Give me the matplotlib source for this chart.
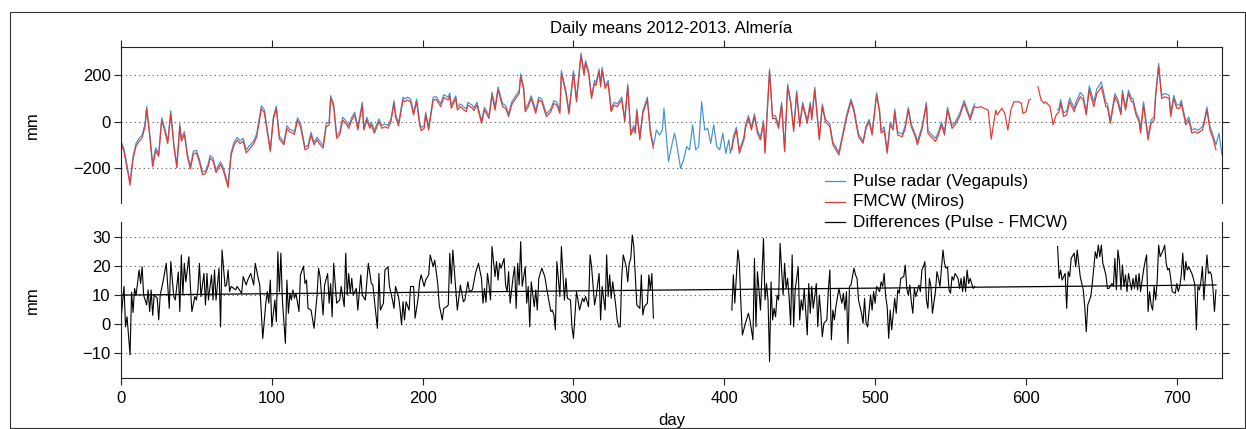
import numpy as np
import matplotlib
matplotlib.use("Agg")
import matplotlib.pyplot as plt
from matplotlib.lines import Line2D
from matplotlib.patches import Rectangle

plt.rcParams['font.family'] = ['Liberation Sans', 'DejaVu Sans']
plt.rcParams['axes.unicode_minus'] = True

# ---- top panel: daily means (mm) ----
# both sensors, days 0-353
days_1 = [0, 2, 4, 6, 8, 10, 12, 14, 16, 17,
          19, 21, 23, 25, 27, 29, 31, 33, 35, 37,
          39, 40, 42, 44, 46, 48, 50, 52, 54, 56,
          58, 59, 61, 63, 66, 68, 71, 73, 75, 77,
          79, 81, 83, 85, 88, 90, 93, 95, 99, 101,
          103, 105, 108, 110, 112, 115, 117, 119, 122, 124,
          126, 128, 130, 132, 134, 136, 138, 139, 141, 143,
          145, 147, 149, 151, 153, 155, 157, 160, 161, 163,
          165, 166, 168, 171, 173, 175, 177, 179, 181, 182,
          184, 187, 188, 190, 192, 194, 196, 198, 199, 201,
          202, 204, 207, 209, 212, 214, 217, 218, 219, 222,
          223, 225, 227, 229, 230, 233, 234, 236, 239, 241,
          244, 246, 248, 250, 253, 255, 257, 259, 261, 264,
          265, 267, 268, 270, 272, 275, 277, 279, 282, 285,
          287, 289, 291, 292, 295, 297, 300, 302, 305, 307,
          308, 310, 312, 314, 315, 317, 318, 319, 321, 323,
          325, 327, 329, 332, 334, 336, 338, 340, 341, 342,
          344, 346, 349, 351, 353]
fmcw_1 = [-95, -130, -200, -275, -160, -105, -85, -70, -20, 55,
          -60, -195, -125, -150, 5, -40, -95, 35, -105, -200,
          -20, -85, -55, -150, -205, -140, -135, -175, -230, -225,
          -190, -158, -170, -220, -185, -215, -285, -145, -100, -80,
          -95, -85, -135, -120, -95, -65, 55, 40, -130, 10,
          55, -75, -100, -30, -45, -55, 5, -20, -122, -115,
          -58, -100, -79, -100, -115, -22, -14, 100, 65, -72,
          -58, 7, -7, -29, 7, 29, -36, 72, -36, 7,
          -29, -14, -50, 0, -29, -22, -29, 0, 79, 22,
          -19, 94, 86, 94, 86, 29, 86, -14, -39, -29,
          29, -36, 94, 96, 65, 105, 94, 110, 58, 100,
          50, 65, 53, 43, 72, 58, 48, 72, -7, 50,
          14, 115, 50, 137, 65, 58, 22, 72, 94, 122,
          194, 137, 43, 65, 100, 36, 94, 86, 22, 43,
          79, 72, 36, 209, 122, 33, 209, 86, 285, 202,
          252, 209, 100, 166, 158, 216, 151, 223, 144, 166,
          43, 72, 65, 94, 0, 151, -58, -29, -50, 43,
          -79, 36, 94, -50, -115]
pulse_1 = [-84, -118, -188, -262, -150, -93, -72, -58, -8, 66,
           -48, -184, -113, -139, 17, -28, -84, 48, -94, -188,
           -8, -72, -43, -138, -193, -128, -124, -163, -218, -214,
           -178, -147, -158, -208, -174, -202, -272, -134, -88, -68,
           -83, -72, -122, -106, -83, -52, 68, 52, -120, 22,
           67, -62, -90, -18, -33, -44, 17, -6, -110, -103,
           -46, -90, -67, -86, -104, -10, -2, 112, 77, -60,
           -46, 19, 5, -17, 19, 41, -24, 84, -24, 19,
           -17, -2, -38, 12, -17, -10, -17, 12, 91, 34,
           -7, 106, 98, 106, 98, 41, 98, -2, -27, -17,
           41, -24, 106, 108, 77, 117, 106, 124, 70, 112,
           62, 77, 65, 55, 84, 70, 60, 84, 5, 62,
           26, 128, 62, 150, 78, 70, 34, 84, 106, 134,
           207, 149, 55, 77, 112, 48, 106, 98, 34, 55,
           91, 84, 48, 221, 134, 45, 221, 98, 297, 214,
           264, 221, 112, 178, 170, 228, 163, 235, 156, 178,
           55, 84, 77, 106, 12, 163, -46, -17, -38, 55,
           -67, 48, 106, -38, -105]

# pulse radar only, days 355-404
days_2 = [355, 357, 359, 360, 363, 365, 367, 368, 371, 373,
          375, 377, 379, 381, 383, 385, 387, 389, 391, 393,
          395, 397, 399, 401, 403, 404]
pulse_2 = [-36, -58, -36, 58, -173, -108, -50, -79, -202, -166,
           -108, -122, -14, -122, -108, 86, -36, -29, -94, -14,
           -108, -122, -50, -137, -79, -137]

# both sensors, days 405-566
days_3 = [405, 406, 408, 410, 413, 414, 416, 418, 420, 422,
          424, 426, 427, 430, 432, 434, 436, 438, 440, 442,
          444, 446, 448, 450, 452, 455, 457, 458, 460, 463,
          465, 467, 470, 472, 476, 479, 481, 484, 486, 489,
          492, 494, 496, 498, 501, 503, 504, 506, 508, 510,
          512, 513, 515, 518, 520, 522, 524, 527, 528, 531,
          534, 535, 538, 540, 542, 544, 546, 548, 551, 553,
          556, 559, 561, 563, 565, 566]
fmcw_3 = [-122, -80, -36, -137, -79, -29, 14, -36, 22, -50,
          -79, -7, -137, 216, 14, 14, -29, 72, -130, 151,
          79, -43, 122, -22, 72, -7, 72, 7, 137, -79,
          65, 0, -22, -100, -144, -50, 14, 86, 43, -65,
          -94, -29, 0, -58, 115, 36, -50, -36, -137, -14,
          -36, 43, -58, -65, -29, 50, -22, -72, -100, -36,
          72, -50, -72, -86, -58, -14, -58, 50, -29, -14,
          22, 79, 43, 7, 50, 65]
pulse_3 = [-110, -65, -24, -124, -67, -17, 26, -24, 34, -38,
           -67, 5, -125, 228, 26, 26, -17, 84, -118, 163,
           91, -31, 134, -10, 84, 5, 84, 19, 149, -67,
           77, 12, -10, -88, -132, -38, 26, 98, 55, -53,
           -84, -19, 10, -46, 125, 48, -38, -22, -125, -2,
           -24, 55, -46, -53, -17, 62, -10, -60, -88, -24,
           84, -38, -60, -72, -44, -2, -44, 62, -17, -2,
           34, 91, 55, 19, 62, 77]

# FMCW only, days 568-620 (short outage near day 605)
days_4 = [568, 570, 572, 575, 577, 580, 581, 584, 586, 588,
          590, 592, 595, 597, 598, 600, 602, 603, 605, 608,
          610, 612, 613, 616, 618, 620]
fmcw_4 = [60, 65, 58, 50, -76, 50, 29, 58, 36, -36,
          50, 86, 86, 79, 36, 43, 94, 96, None, 151,
          94, 79, 86, 65, -14, 29]

# both sensors, days 621-730
days_5 = [621, 622, 623, 625, 627, 629, 632, 633, 636, 638,
          640, 642, 645, 647, 649, 650, 653, 654, 656, 659,
          661, 663, 664, 666, 668, 670, 671, 673, 675, 676,
          678, 681, 683, 685, 686, 688, 690, 692, 695, 696,
          698, 700, 702, 703, 706, 708, 710, 712, 714, 717,
          718, 720, 722, 724, 726, 728, 730]
fmcw_5 = [35, 43, 79, 22, 29, 86, 43, 65, 108, 94,
          29, 137, 65, 122, 140, 151, 65, 65, -7, 108,
          79, 29, 122, 50, 122, 86, 86, 29, 0, -50,
          72, -79, -7, 7, 108, 238, 100, 108, 100, 22,
          100, 58, 58, 79, -14, 7, -50, -43, -50, -36,
          -14, 50, -36, -72, -122, None, None]
pulse_5 = [50, 58, 95, 38, 45, 102, 58, 82, 126, 112,
           42, 155, 85, 142, 160, 172, 82, 78, 5, 122,
           95, 42, 136, 62, 136, 100, 100, 43, 14, -36,
           86, -65, 7, 21, 122, 252, 114, 122, 114, 36,
           114, 72, 72, 93, 0, 20, -36, -30, -38, -22,
           -2, 64, -20, -58, -100, -50, -144]

# ---- bottom panel: differences Pulse - FMCW (mm) ----
diff_days_a = [0, 2, 3, 4, 6, 7, 8, 9, 10, 12,
               13, 14, 15, 17, 18, 19, 20, 21, 22, 24,
               25, 26, 28, 30, 32, 33, 35, 36, 38, 39,
               40, 41, 42, 43, 45, 46, 47, 49, 50, 51,
               52, 53, 55, 56, 57, 58, 60, 61, 62, 63,
               65, 66, 67, 69, 70, 71, 72, 73, 76, 77,
               80, 81, 83, 84, 86, 88, 89, 91, 92, 94,
               96, 97, 98, 99, 100, 102, 103, 104, 105, 106,
               107, 109, 110, 111, 112, 113, 114, 115, 116, 118,
               119, 121, 122, 123, 124, 126, 128, 130, 131, 132,
               134, 135, 137, 138, 139, 140, 141, 143, 145, 146,
               148, 149, 150, 151, 152, 153, 154, 156, 157, 159,
               160, 162, 164, 166, 167, 168, 170, 171, 172, 174,
               175, 177, 178, 180, 181, 182, 184, 185, 186, 187,
               188, 189, 191, 192, 194, 195, 197, 198, 199, 201,
               202, 204, 205, 207, 208, 210, 211, 213, 214, 216,
               217, 218, 219, 220, 222, 223, 225, 227, 228, 230,
               231, 233, 235, 237, 239, 240, 241, 242, 243, 244,
               245, 246, 248, 249, 250, 251, 252, 254, 255, 256,
               257, 258, 260, 261, 262, 263, 264, 265, 266, 268,
               269, 270, 271, 272, 274, 275, 276, 277, 279, 281,
               283, 285, 286, 287, 288, 289, 291, 292, 294, 295,
               296, 298, 299, 300, 302, 303, 304, 306, 307, 308,
               310, 311, 312, 314, 315, 317, 318, 319, 321, 322,
               323, 324, 325, 326, 328, 329, 330, 331, 332, 333,
               335, 336, 337, 338, 339, 340, 342, 344, 345, 346,
               347, 349, 350, 351, 352, 353]
diff_a = [1.4, 13, -1, 2.5, -10.7, 11, 4, 12.3, 10, 18.7,
          14, 19.8, 10, 6.6, 11.8, 4.3, 11.8, 3, 10, 9,
          1.4, 10, 15, 21, 5.4, 21.6, 9.5, 8.3, 18, 4.3,
          23.9, 10, 21, 14.6, 23.3, 13, 4.3, 9.5, 8.3, 11.8,
          21, 9.5, 17.5, 6.6, 17.5, 8.3, 17, 8.3, 18.7, 8.3,
          19.3, -1, 25.6, 13, 13.5, 18.7, 11.2, 13, 11.8, 13,
          10.6, 16.4, 13.5, 15.2, 17.5, 13.5, 21, 15.8, 13.5, -5,
          7.2, 11.2, 7.2, 15.2, -1, 8.3, 0.8, 25, 11.2, 24.5,
          8.3, -6.7, 15.2, 3.7, 10.6, 8.3, 11.8, 8.9, 10.6, 4.3,
          17, 20, 14, 15.2, 5.4, 4.8, -1.5, 10, 19.3, 16.4,
          3.1, 13.5, 17.5, 7.2, 14, 2.5, 21, 7.2, 8.3, 13,
          6, 24.5, 10, 17.5, 10.6, 15.8, 10, 12.3, 4.8, 17,
          10, 8.3, 21, 14, 13.5, 8.3, -1.5, 17.5, 4.8, 7.2,
          18.7, 19.8, 13, 8.3, 5.4, 13, 9.5, 5.4, -0.3, 7.7,
          1.4, 7.7, 4.8, 13, 13, 2, 8.9, 14.6, 17, 13,
          15.2, 17, 23.9, 19.8, 22.1, 14, 6.6, 1.4, 5.4, 6,
          6.6, 24.5, 14, 25.6, 11.8, 4.8, 13.5, 7.7, 8.3, 14.6,
          11.2, 11.8, 17.5, 21, 15.8, 7.2, 12.3, 7.5, 17.5, 13.5,
          8.3, 26.8, 16.4, 21.6, 15.2, 21, 19.3, 22.7, 13.5, 11.2,
          18.1, 7.2, 16.4, 19.8, 5.4, 21, 13.5, 28.5, 13, 19.8,
          7.2, 13, -1, 14.6, 6, 11.8, 4.8, 15.8, 19.3, 16.4,
          10, 4.3, 4.8, 3.1, -2, 21.6, 9.5, 26.8, 8.3, 15.8,
          8.9, 8.3, -1, -5, 11.2, 8.3, 4.8, 8.9, 7.7, 9.5,
          6, 23.9, 19.8, 6.6, 9.5, 17.5, 1.4, 13, 4.8, 23.9,
          9.5, 17, 8.9, 14.6, 6.6, 1.4, -1, -1, 16.4, 23.9,
          19.8, 14.6, 21, 22.7, 30.8, 26.8, 6.6, 5.4, 17, 3.1,
          6, 7.2, 17, 11.8, 17.5, 2]

diff_days_b = [405, 406, 407, 409, 410, 411, 412, 414, 416, 417,
               419, 420, 421, 422, 423, 424, 426, 427, 428, 429,
               430, 431, 432, 433, 434, 435, 436, 437, 439, 440,
               441, 442, 443, 444, 445, 446, 447, 449, 450, 451,
               452, 453, 454, 455, 456, 457, 458, 459, 461, 462,
               463, 464, 465, 466, 468, 469, 470, 471, 472, 473,
               474, 476, 477, 478, 479, 480, 481, 482, 483, 484,
               486, 487, 488, 489, 491, 492, 493, 494, 495, 497,
               498, 499, 500, 501, 503, 504, 505, 506, 507, 508,
               509, 510, 511, 513, 514, 515, 516, 517, 519, 520,
               521, 522, 523, 524, 525, 526, 527, 529, 530, 531,
               532, 533, 534, 535, 536, 537, 538, 540, 541, 542,
               543, 545, 546, 547, 548, 549, 550, 551, 552, 553,
               555, 556, 557, 558, 559, 560, 561, 562, 563, 565,
               566]
diff_b = [4.8, 17, 7.2, 25.6, 21, 7.2, -3.8, 0.2, 3.7, 1.4,
          -5.5, 22.7, -1, 18.1, 11.8, 4.8, 29.6, 8.3, 14, 8.3,
          -13, 14.6, 1.4, 5.4, 2.5, 10, 8.3, 27.9, 10, 21,
          12.3, 15.8, 8.9, -0.3, 23.9, -1, 11.8, 19.8, 1.4, 8.3,
          4.8, 12.3, 4.3, -3.8, 14, 3.7, 13, 5.4, 14, -1,
          10, 3.7, -4.4, 0.2, 1.4, 11.8, 18.7, -5.5, 4.8, 1.4,
          6, 12.3, 9.5, 7.2, 10.6, 4.8, 11.2, -6.7, 13, 13.5,
          19.3, 17, 15.8, 8.3, 3.7, 0.2, 8.9, 0.2, -1, 10,
          4.8, 11.2, 7.2, 13, 11.2, 14.6, 13, 17.5, 9.5, 6,
          -5, 4.8, -2, 8.9, 3.7, 11.8, 10.6, 15.8, 16.4, 20.4,
          12.3, 10, 13.5, 7.7, 3.7, 12.3, 9.5, 13.5, 11.2, 18.7,
          19.8, 21.6, 8.3, 5.4, 15.8, 13, 3.7, 11.2, 18.1, 15.8,
          13, 25.6, 21, 19.3, 19.8, 11.8, 10.6, 16.4, 15.2, 17.5,
          15.8, 12.3, 15.8, 11.2, 16.4, 11.2, 18.7, 14, 15.8, 12.3,
          13]

diff_days_c = [621, 622, 623, 624, 626, 627, 628, 629, 630, 632,
               633, 634, 635, 636, 638, 639, 640, 641, 643, 644,
               646, 647, 648, 649, 650, 651, 653, 654, 655, 657,
               658, 659, 660, 661, 662, 663, 664, 665, 666, 667,
               668, 670, 671, 672, 673, 674, 675, 676, 678, 679,
               680, 681, 682, 683, 684, 685, 686, 687, 688, 689,
               691, 692, 693, 694, 695, 696, 697, 699, 700, 701,
               702, 703, 704, 705, 706, 707, 708, 710, 711, 712,
               713, 714, 715, 716, 717, 718, 720, 721, 722, 723,
               724, 725, 726]
diff_c = [26.8, 15.8, 18.7, 15.2, 17.5, 5.4, 18.1, 16.4, 22.7, 24.5,
          19.8, 25.6, 21, 16.4, 11.8, 6, -2.7, 6.6, 9.5, 14,
          25, 22.7, 27.3, 23.3, 27.3, 21, 17, 12.3, 12.3, 14,
          13, 22.7, 11.8, 25.6, 21.6, 11.8, 20.4, 13, 17, 11.2,
          17.5, 11.8, 15.8, 12.3, 17, 11.8, 17.5, 11.2, 18.7, 21.6,
          23.9, 4.3, 11.2, 6.6, 4.8, 13, 8.3, 14.6, 27.3, 23.3,
          25.6, 27.3, 21, 18.7, 19.3, 15.8, 11.2, 10.6, 14, 11.2,
          13, 17, 24.5, 15.2, 21.6, 18.7, 19.8, 17.5, 15.8, 13.5,
          -2, 13, 11.8, 14.6, 19.8, 8.3, 23.9, 17.5, 18.1, 17,
          12.3, 4.3, 11.8]

# linear trend of the differences
trend_days = [0, 726]
trend_vals = [10.0, 13.5]

blue = '#3f93d2'
red = '#e8352e'
nan = [np.nan]

pulse_x = np.array(days_1 + days_2 + days_3 + nan + days_5, dtype=float)
pulse_y = np.array(pulse_1 + pulse_2 + pulse_3 + nan + pulse_5, dtype=float)
fmcw_x = np.array(days_1 + nan + days_3 + days_4 + days_5, dtype=float)
fmcw_y = np.array(fmcw_1 + nan + fmcw_3 + fmcw_4 + fmcw_5, dtype=float)

W, H = 1246, 429
fig = plt.figure(figsize=(W / 100, H / 100), dpi=100)
ax1 = fig.add_axes([121 / W, 1 - 203 / H, 1101 / W, 156 / H])
ax2 = fig.add_axes([121 / W, 1 - 378 / H, 1101 / W, 156 / H])

ax1.plot(pulse_x, pulse_y, color=blue, lw=0.85)
ax1.plot(fmcw_x, fmcw_y, color=red, lw=0.85)
ax2.plot(diff_days_a, diff_a, color='black', lw=0.8)
ax2.plot(diff_days_b, diff_b, color='black', lw=0.8)
ax2.plot(diff_days_c, diff_c, color='black', lw=0.8)
ax2.plot(trend_days, trend_vals, color='black', lw=0.9)

ax1.set_ylim(-352, 323)
ax2.set_ylim(-18.7, 35.3)
ax1.set_yticks([-200, 0, 200])
ax2.set_yticks([-10, 0, 10, 20, 30])

for ax in (ax1, ax2):
    ax.set_xlim(0, 730)
    ax.set_xticks(range(0, 701, 100))
    ax.grid(axis='y', linestyle=(0, (1, 3)), color='#555555', lw=0.8)
    ax.set_ylabel('mm', fontsize=12)
    ax.yaxis.set_label_coords(-0.0735, 0.5)
    for s in ax.spines.values():
        s.set_linewidth(0.8)
        s.set_color('#222222')
    ax.tick_params(direction='out', length=5, width=0.8, color='#222222',
                   labelsize=12, pad=2.5)

ax1.spines['bottom'].set_visible(False)
ax1.tick_params(axis='x', top=True, bottom=False, labeltop=False, labelbottom=False)
ax1.tick_params(axis='y', left=True, right=True, labelright=False)

ax2.spines['top'].set_visible(False)
ax2.tick_params(axis='x', bottom=True, top=False, labelbottom=True, pad=4.5)
ax2.tick_params(axis='y', left=True, right=True, labelright=False)
ax2.set_xlabel('day', fontsize=12, labelpad=5)

fig.text(671.5 / W, 1 - 28 / H, 'Daily means 2012-2013. Almería',
         ha='center', va='center', fontsize=12)

# legend drawn in figure pixels
entries = [(blue, 'Pulse radar (Vegapuls)'), (red, 'FMCW (Miros)'),
           ('black', 'Differences (Pulse - FMCW)')]
for i, (c, lab) in enumerate(entries):
    yy = 1 - (181 + 20.5 * i) / H
    fig.add_artist(Line2D([825 / W, 845 / W], [yy, yy], color=c, lw=0.9,
                          transform=fig.transFigure))
    fig.text(853 / W, yy, lab, ha='left', va='center', fontsize=12.3)

fig.add_artist(Rectangle((10 / W, 1 / H), 1235 / W, 416 / H, transform=fig.transFigure,
                         fill=False, lw=0.8, ec='#333333'))

fig.savefig('out.png', dpi=100)
